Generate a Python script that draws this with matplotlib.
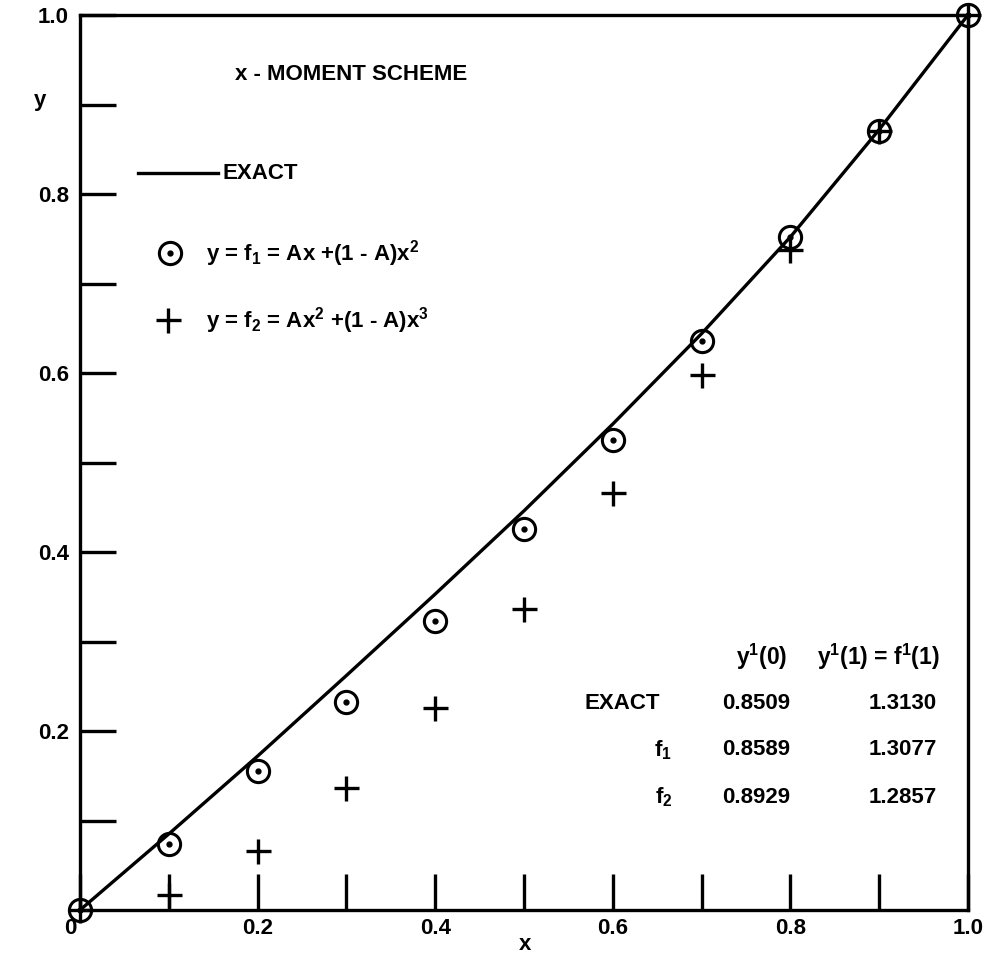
import matplotlib
matplotlib.use("Agg")
import matplotlib.pyplot as plt
import matplotlib.transforms as mtransforms

plt.rcParams['font.family'] = ['Liberation Sans', 'DejaVu Sans']
plt.rcParams['font.weight'] = 'bold'
plt.rcParams['mathtext.fontset'] = 'custom'
plt.rcParams['mathtext.bf'] = 'Liberation Sans:bold'
plt.rcParams['mathtext.rm'] = 'Liberation Sans:bold'
plt.rcParams['mathtext.default'] = 'bf'

# data
x_vals = [0.0, 0.1, 0.2, 0.3, 0.4, 0.5, 0.6, 0.7, 0.8, 0.9, 1.0]
y_exact = [0.0, 0.085, 0.172, 0.262, 0.353, 0.446, 0.543, 0.644, 0.752, 0.872, 1.0]
y_f1 = [0.0, 0.074, 0.155, 0.232, 0.323, 0.426, 0.525, 0.636, 0.752, 0.870, 1.0]
y_f2 = [0.0, 0.017, 0.066, 0.136, 0.226, 0.336, 0.466, 0.598, 0.737, 0.870, 1.0]

x_ticks = [0.0, 0.2, 0.4, 0.6, 0.8, 1.0]
x_tick_labels = ['0', '0.2', '0.4', '0.6', '0.8', '1.0']
y_ticks = [0.2, 0.4, 0.6, 0.8, 1.0]
y_tick_labels = ['0.2', '0.4', '0.6', '0.8', '1.0']
minor_ticks = [0.1, 0.3, 0.5, 0.7, 0.9]

table_cols = ['y$^\\mathbf{1}$(0)', 'y$^\\mathbf{1}$(1) = f$^\\mathbf{1}$(1)']
table_rows = ['EXACT', 'f$_\\mathbf{1}$', 'f$_\\mathbf{2}$']
table_y0 = ['0.8509', '0.8589', '0.8929']
table_y1 = ['1.3130', '1.3077', '1.2857']

fig = plt.figure(figsize=(9.83, 9.76), dpi=100)
ax = fig.add_axes([0.0814, 0.0676, 0.9033, 0.917])
ax.set_xlim(0, 1.0)
ax.set_ylim(0, 1.0)

ax.plot(x_vals, y_exact, color='black', lw=2.4, zorder=2)
ax.plot(x_vals, y_f1, linestyle='none', marker='o', ms=16, mfc='none',
        mec='black', mew=2.2, zorder=3, clip_on=False)
ax.plot(x_vals, y_f1, linestyle='none', marker='o', ms=3.5, mfc='black',
        mec='black', zorder=3, clip_on=False)
ax.plot(x_vals, y_f2, linestyle='none', marker='+', ms=18, mec='black',
        mew=2.4, zorder=3, clip_on=False)

for s in ['top', 'right', 'left', 'bottom']:
    ax.spines[s].set_linewidth(2.4)

fs = 16
ax.set_xticks(x_ticks)
ax.set_xticklabels(x_tick_labels)
ax.set_yticks(y_ticks)
ax.set_yticklabels(y_tick_labels)
ax.set_xticks(minor_ticks, minor=True)
ax.set_yticks(minor_ticks, minor=True)
ax.tick_params(which='both', direction='in', length=26, width=2.4,
               labelsize=fs, top=False, right=False)
ax.tick_params(axis='x', which='major', pad=6)
ax.tick_params(axis='y', which='major', pad=8)
for lbl in ax.get_xticklabels() + ax.get_yticklabels():
    lbl.set_fontweight('bold')
# the "0" label sits slightly left of the corner in the original
zero_lbl = ax.get_xticklabels()[0]
zero_lbl.set_transform(zero_lbl.get_transform() +
                       mtransforms.ScaledTranslation(-10 / 100, 0, fig.dpi_scale_trans))

ax.text(-0.045, 0.905, 'y', transform=ax.transAxes, fontsize=fs,
        ha='center', va='center')
ax.text(0.501, -0.039, 'x', transform=ax.transAxes, fontsize=fs,
        ha='center', va='center')

ax.text(0.174, 0.934, 'x - MOMENT SCHEME', fontsize=fs, ha='left', va='center')

# legend
ax.plot([0.065, 0.155], [0.823, 0.823], color='black', lw=2.4)
ax.text(0.160, 0.823, 'EXACT', fontsize=fs, ha='left', va='center')
ax.plot([0.101], [0.734], linestyle='none', marker='o', ms=16, mfc='none',
        mec='black', mew=2.2)
ax.plot([0.101], [0.734], linestyle='none', marker='o', ms=3.5, mfc='black', mec='black')
ax.text(0.142, 0.734, 'y = f$_\\mathbf{1}$ = Ax +(1 - A)x$^\\mathbf{2}$', fontsize=fs,
        ha='left', va='center')
ax.plot([0.099], [0.659], linestyle='none', marker='+', ms=18, mec='black', mew=2.4)
ax.text(0.142, 0.659, 'y = f$_\\mathbf{2}$ = Ax$^\\mathbf{2}$ +(1 - A)x$^\\mathbf{3}$', fontsize=fs,
        ha='left', va='center')

# table
head_x = [0.768, 0.899]
head_y = 0.283
row_y = [0.231, 0.179, 0.126]
row_x = [0.653, 0.667, 0.667]
val_x = [0.761, 0.927]
for j in range(2):
    ax.text(head_x[j], head_y, table_cols[j], fontsize=fs + 0.5, ha='center', va='center')
for i in range(3):
    ax.text(row_x[i], row_y[i], table_rows[i], fontsize=fs, ha='right', va='center')
    ax.text(val_x[0], row_y[i], table_y0[i], fontsize=fs, ha='center', va='center')
    ax.text(val_x[1], row_y[i], table_y1[i], fontsize=fs, ha='center', va='center')

fig.savefig('out.png', dpi=100)
